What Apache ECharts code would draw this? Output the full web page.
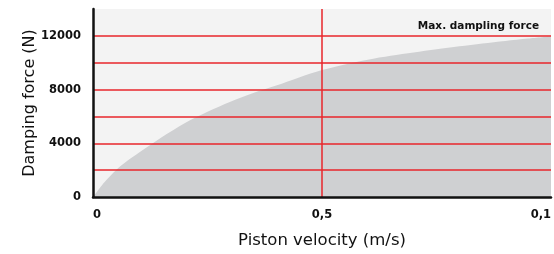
<!DOCTYPE html>
<html>
<head>
<meta charset="utf-8">
<script src="https://cdn.jsdelivr.net/npm/echarts@6/dist/echarts.min.js"></script>
<style>html,body{margin:0;padding:0;background:#fff}#c{width:554px;height:254px}</style>
</head>
<body>
<div id="c"></div>
<script>
const velocity = [0, 0.025, 0.05, 0.075, 0.1, 0.15, 0.2, 0.25, 0.3, 0.35, 0.4, 0.45, 0.5, 0.55, 0.6, 0.65, 0.7, 0.75, 0.8, 0.85, 0.9, 0.95, 1.0];
const force = [0, 1100, 2000, 2700, 3300, 4450, 5500, 6350, 7100, 7750, 8300, 8900, 9450, 9870, 10230, 10520, 10760, 11000, 11220, 11430, 11620, 11800, 11950];
const xTickValues = [0, 0.5, 1];
const xTickLabels = ['0', '0,5', '0,1'];
const yTickValues = [0, 4000, 8000, 12000];
const yTickLabels = ['0', '4000', '8000', '12000'];
const xName = 'Piston velocity (m/s)';
const yName = 'Damping force (N)';
const noteText = 'Max. dampling force';

const chart = echarts.init(document.getElementById('c'), null, {renderer: 'canvas'});
const red = '#e8262b';
chart.setOption({
  animation: false,
  title: {
    text: noteText, right: 10, top: 16,
    textStyle: {fontFamily: 'DejaVu Sans', fontWeight: 'bold', fontSize: 10.5, color: '#111'}
  },
  grid: {left: 93, right: 0, top: 9, bottom: 48, show: true, backgroundColor: '#f3f3f3', borderWidth: 0},
  xAxis: {
    type: 'value', min: 0, max: 1, interval: 0.5, z: 5,
    name: xName, nameLocation: 'middle', nameGap: 35, nameMoveOverlap: false,
    nameTextStyle: {fontFamily: 'DejaVu Sans', fontSize: 16.5, color: '#111'},
    axisLine: {show: true, lineStyle: {color: '#111', width: 2.5}},
    axisTick: {show: false},
    axisLabel: {
      margin: 12, color: '#111', fontFamily: 'DejaVu Sans', fontWeight: 'bold', fontSize: 11.5,
      alignMinLabel: 'left', alignMaxLabel: 'right',
      formatter: v => { const i = xTickValues.findIndex(t => Math.abs(t - v) < 1e-9); return i >= 0 ? xTickLabels[i] : ''; }
    },
    splitLine: {show: true, showMinLine: false, showMaxLine: false, lineStyle: {color: red, width: 1.5}}
  },
  yAxis: {
    type: 'value', min: 0, max: 14000, interval: 2000, z: 5,
    name: yName, nameLocation: 'middle', nameGap: 55, nameMoveOverlap: false,
    nameTextStyle: {fontFamily: 'DejaVu Sans', fontSize: 16, color: '#111'},
    axisLine: {show: true, lineStyle: {color: '#111', width: 2.5}},
    axisTick: {show: false},
    axisLabel: {
      margin: 12, color: '#111', fontFamily: 'DejaVu Sans', fontWeight: 'bold', fontSize: 11.5,
      formatter: v => { const i = yTickValues.indexOf(v); return i >= 0 ? yTickLabels[i] : ''; }
    },
    splitLine: {show: true, showMinLine: false, showMaxLine: false, lineStyle: {color: red, width: 1.5}}
  },
  series: [{
    type: 'line', z: 2,
    data: velocity.map((v, i) => [v, force[i]]),
    smooth: 0.3, showSymbol: false,
    lineStyle: {width: 0, color: '#cfd0d2'},
    areaStyle: {color: '#cfd0d2', opacity: 1}
  }]
});
</script>
</body>
</html>
